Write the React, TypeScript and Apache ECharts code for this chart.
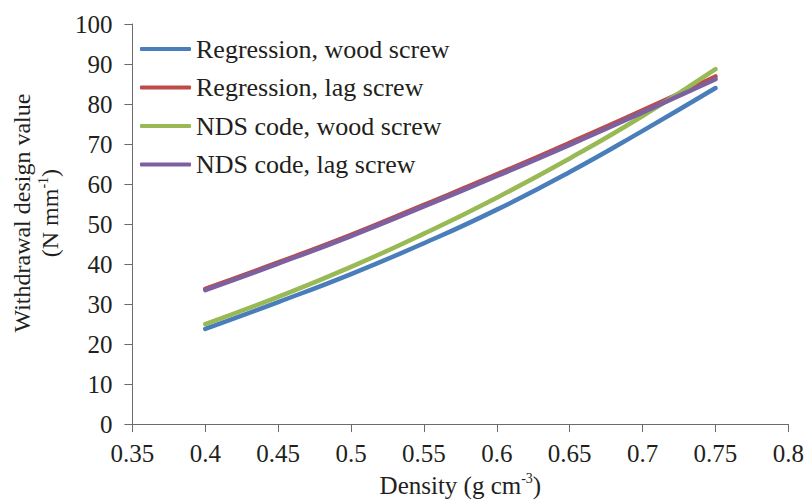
import React, { useEffect, useRef } from "react";
import * as echarts from "echarts";

const densities = [0.4, 0.45, 0.5, 0.55, 0.6, 0.65, 0.7, 0.75];
const regressionWood = [23.8, 30.5, 37.5, 45.2, 53.6, 63.0, 73.3, 84.0];
const regressionLag = [33.8, 40.4, 47.3, 54.8, 62.4, 70.3, 78.4, 86.9];
const ndsWood = [25.0, 31.8, 39.3, 47.6, 56.6, 66.4, 77.0, 88.7];
const ndsLag = [33.5, 40.1, 47.0, 54.4, 62.0, 69.8, 77.9, 86.2];
const seriesNames = [
  "Regression, wood screw",
  "Regression, lag screw",
  "NDS code, wood screw",
  "NDS code, lag screw",
];
const seriesColors = ["#4A7EBB", "#BE4B48", "#98B954", "#7D60A0"];

const FONT = "Liberation Serif, DejaVu Serif";
const TEXT = "#231F20";
const AXIS = "#6b6b6b";

export default function App() {
  const ref = useRef<HTMLDivElement>(null);
  useEffect(() => {
    if (!ref.current) return;
    const chart = echarts.init(ref.current, undefined, { renderer: "svg" });
    const allValues = [regressionWood, regressionLag, ndsWood, ndsLag];
    chart.setOption({
      animation: false,
      backgroundColor: "#ffffff",
      textStyle: { fontFamily: FONT },
      grid: { left: 126, right: 15, top: 24, bottom: 78, containLabel: false },
      legend: {
        orient: "vertical",
        left: 135,
        top: 30,
        itemWidth: 51,
        itemHeight: 4,
        itemGap: 10.5,
        icon: "roundRect",
        data: seriesNames,
        textStyle: { fontFamily: FONT, fontSize: 26, color: TEXT, lineHeight: 28 },
      },
      xAxis: {
        type: "value",
        min: 0.35,
        max: 0.8,
        interval: 0.05,
        name: "Density (g cm{sup|-3})",
        nameLocation: "middle",
        nameGap: 46,
        nameTextStyle: {
          fontFamily: FONT,
          fontSize: 25,
          color: TEXT,
          lineHeight: 28,
          rich: {
            sup: { fontFamily: FONT, fontSize: 14, color: TEXT, lineHeight: 14, verticalAlign: "top" },
          },
        },
        axisLine: { show: true, lineStyle: { color: AXIS, width: 1 } },
        axisTick: { show: true, length: 8, lineStyle: { color: AXIS } },
        axisLabel: {
          fontFamily: FONT,
          fontSize: 25,
          color: TEXT,
          margin: 17,
          formatter: (v: number) => String(parseFloat(v.toFixed(2))),
        },
        splitLine: { show: false },
      },
      yAxis: {
        type: "value",
        min: 0,
        max: 100,
        interval: 10,
        name: "Withdrawal design value\n(N mm{sup|-1})",
        nameLocation: "middle",
        nameGap: 62,
        nameRotate: 90,
        nameTextStyle: {
          fontFamily: FONT,
          fontSize: 24,
          color: TEXT,
          lineHeight: 28,
          padding: [0, 0, 0, 22],
          rich: {
            sup: { fontFamily: FONT, fontSize: 14, color: TEXT, lineHeight: 14, verticalAlign: "top" },
          },
        },
        axisLine: { show: true, lineStyle: { color: AXIS, width: 1 } },
        axisTick: { show: true, length: 8, lineStyle: { color: AXIS } },
        axisLabel: { fontFamily: FONT, fontSize: 25, color: TEXT, margin: 20 },
        splitLine: { show: false },
      },
      series: seriesNames.map((name, i) => ({
        name,
        type: "line",
        smooth: true,
        showSymbol: false,
        symbol: "none",
        color: seriesColors[i],
        lineStyle: { width: 4.5, color: seriesColors[i], cap: "round" },
        data: densities.map((d, j) => [d, allValues[i][j]]),
      })),
    });
    return () => chart.dispose();
  }, []);
  return (
    <div
      ref={ref}
      style={{ position: "fixed", left: 0, top: 0, width: 807, height: 504 }}
    />
  );
}
